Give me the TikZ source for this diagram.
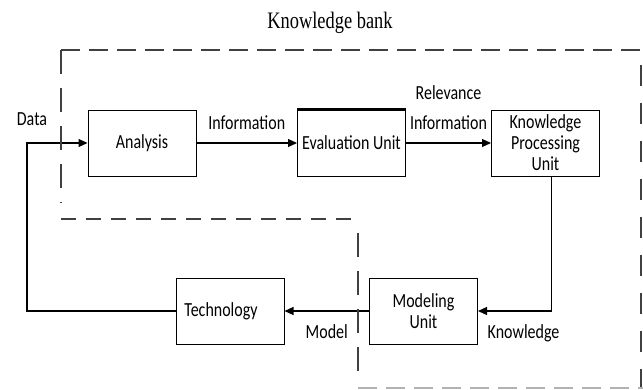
\documentclass[tikz,border=0pt]{standalone}
\usepackage{fontspec}
\setmainfont{Carlito}[FakeStretch=0.8]
\newfontfamily\bankfont{Liberation Serif}[FakeStretch=0.78]
\usepackage{tikz}
\usetikzlibrary{arrows.meta}

\begin{document}
\begin{tikzpicture}[x=1pt, y=-1pt, ->, >={Triangle[length=9pt,width=8pt]}, line width=1.2pt, font=\fontsize{20}{21}\selectfont]
  \tikzstyle{unit}=[draw, rectangle, line width=1pt, minimum width=108pt, minimum height=66pt, align=center, inner sep=1pt]
  \tikzstyle{bank}=[-, line width=1.4pt, black!75, dash pattern=on 19pt off 9pt]
  \tikzstyle{bankv}=[bank, dash pattern=on 24pt off 14pt]

  \useasboundingbox (0,0) rectangle (643,389);

  \node[unit] (analysis) at (142,143) {Analysis};
  \node[unit] (eval)     [right of=analysis, node distance=209.5pt] {Evaluation Unit};
  \node[unit] (kpu)      [right of=eval, node distance=194pt] {Knowledge\\Processing\\Unit};
  \node[unit] (model)    at (423.5,311) {Modeling\\Unit};
  \node[unit] (tech)     [left of=model, node distance=193.5pt] {Technology\hspace*{18pt}};
  \node (banklbl) at (330,23) {\bankfont\fontsize{23.6}{25}\selectfont Knowledge bank};
  \node (datalbl) at (32,119) {Data};
  \coordinate (feed) at (27,143);

  % thick top edge of the evaluation box
  \draw[-, line width=2.2pt] (eval.north west) -- (eval.north east);

 \path (analysis) edge node[above=9pt] {Information} (eval)
       (eval)     edge node[above=9pt, align=center] {Relevance\\[9pt]Information} (kpu)
       (model)    edge node[below=10pt] {Model} (tech);
 \draw ([xshift=6pt]kpu.south) |- node[below=10pt, pos=0.69] {Knowledge} (model.east);
 \draw (tech.west) -| (feed) -- (analysis.west);

  % knowledge bank boundary
  \draw[bank] (61,50) -- (643,50);
  \draw[bankv] (61,50) -- (61,203);
  \draw[bank, dash pattern=on 15pt off 10pt] (61,219) -- (358,219);
  \draw[bankv] (358,233) -- (358,373);
  \draw[bankv, dash pattern=on 21pt off 17pt] (641,65) -- (641,388);
  \draw[bank, black!30] (358,388) -- (643,388);
\end{tikzpicture}
\end{document}
